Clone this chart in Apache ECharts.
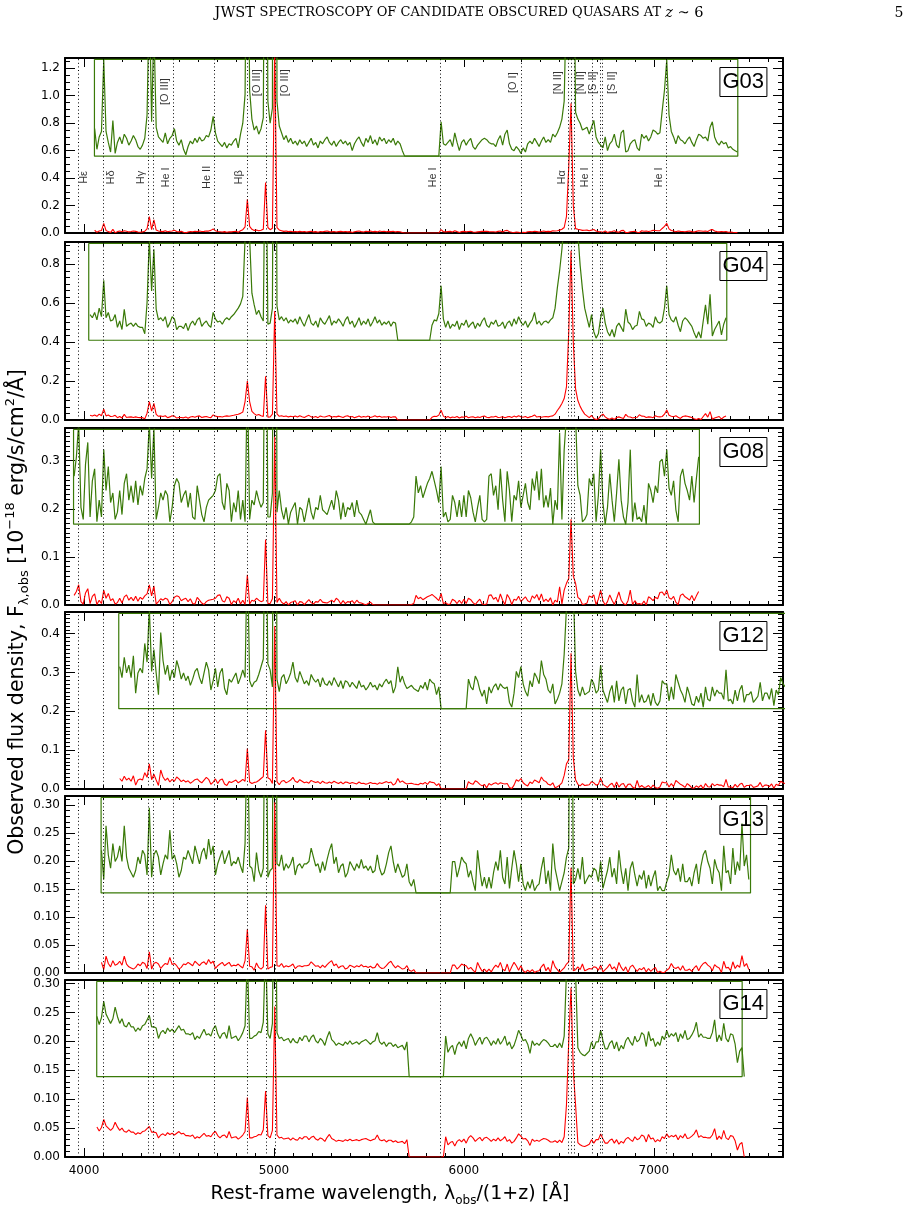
<!DOCTYPE html>
<html><head><meta charset="utf-8">
<script src="https://cdn.jsdelivr.net/npm/echarts@6/dist/echarts.min.js"></script>
<style>html,body{margin:0;padding:0;background:#fff}#c{width:911px;height:1223px}</style>
</head><body><div id="c"></div>
<script>
// ---------------- data ----------------
const NAMES = ['G03','G04','G08','G12','G13','G14'];
// first sample wavelength (rest-frame, Å) of each spectrum; samples every STEP Å
const START = [4056, 4032, 3948, 4188, 4092, 4068];
const STEP = 12;
// wavelength range covered by each spectrum (edges of the green zoom box)
const BOX = [[4055,7442],[4025,7384],[3945,7240],[4183,7700],[4090,7509],[4067,7465]];
// zoomed (green) copy: offset and multiplication factor
const OFFSET = [0.56, 0.41, 0.168, 0.207, 0.143, 0.139];
const SCALE = [10, 5.5, 5, 4, 4, 2];
// y axis ranges and ticks (10^-18 erg/s/cm2/Å)
const YMAX = [1.275, 0.915, 0.368, 0.456, 0.316, 0.306];
const YTICK = [0.2, 0.2, 0.1, 0.1, 0.05, 0.05];
const YMINOR = [0.05, 0.2/6, 0.01, 0.01, 0.01, 0.01];
const YDEC = [1, 1, 1, 1, 2, 2];
const XMAJOR = [4000, 5000, 6000, 7000];
// emission lines (Å)
const LINES = [3970, 4102, 4340, 4363, 4471, 4686, 4861, 4959, 5007, 5876, 6300, 6548, 6563, 6583, 6678, 6716, 6731, 7065];
const LABEL_LOW = [['Hε',4000],['Hδ',4143],['Hγ',4299],['He I',4434],['He II',4645],['Hβ',4817],['He I',5836],['Hα',6515],['He I',6639],['He I',7026]];
const LABEL_HIGH = [['[O III]',4424],['[O III]',4912],['[O III]',5058],['[O I]',6260],['[N II]',6494],['[N II]',6618],['[S II]',6682],['[S II]',6780]];

// flux densities in units of 1e-21 erg/s/cm2/Å (0 = no data)
const FLUX_G03 = [
20,5,14,18,70,18,10,3,26,2,
10,14,9,16,13,8,11,15,12,7,
5,8,13,30,119,25,95,21,14,12,
10,17,9,13,15,20,11,8,12,5,
1,7,11,9,13,10,14,11,12,15,
14,19,29,17,11,9,7,10,6,9,
8,11,13,6,16,24,45,245,48,27,
19,22,16,20,28,367,40,24,35,1350,
40,22,17,12,15,10,13,9,11,8,
12,9,11,7,10,13,8,10,6,11,
9,12,14,10,8,11,7,10,12,9,
11,8,10,4,9,12,14,10,7,13,
10,15,9,12,8,14,11,13,9,12,
10,13,8,11,9,4,0,0,0,0,
0,0,0,0,0,0,0,0,0,0,
0,0,25,9,8,10,12,7,17,10,
4,10,12,8,11,13,7,5,8,10,
12,13,12,10,9,9,7,12,15,8,
16,19,9,5,4,7,5,2,6,3,
9,11,9,13,10,7,11,14,10,12,
10,16,14,17,21,27,40,120,480,945,
200,32,27,24,19,20,21,16,21,26,
14,10,8,6,14,4,9,11,16,8,
6,17,19,3,4,9,11,12,6,4,
16,13,15,11,14,19,18,16,17,33,
48,70,30,18,14,9,15,12,11,9,
12,14,10,7,12,16,15,13,14,11,
21,25,14,10,8,11,9,10,6,7,
5,4,3];
const FLUX_G04 = [
24,21,26,19,30,22,56,21,26,18,
19,24,12,18,10,29,13,15,16,13,
16,13,12,12,6,35,95,46,85,29,
19,21,18,22,12,16,22,20,10,13,
13,11,16,9,15,18,14,19,21,13,
16,18,14,12,26,20,17,18,15,19,
21,19,22,24,27,30,34,41,95,200,
95,44,33,24,28,22,18,225,15,16,
30,560,32,19,22,18,21,16,19,17,
20,15,22,17,13,19,24,16,14,18,
12,21,17,15,19,23,14,18,16,20,
17,13,19,22,15,18,12,16,21,14,
18,15,20,13,17,22,16,19,14,17,
15,18,13,17,16,0,0,0,0,0,
0,0,0,0,0,0,0,0,0,0,
14,19,18,25,51,20,12,18,11,15,
13,18,10,16,14,19,12,15,17,11,
16,13,18,21,14,12,17,15,19,13,
14,17,11,16,18,13,20,15,22,17,
14,18,12,16,19,26,15,18,14,17,
18,16,19,21,30,49,65,85,110,170,
450,870,400,160,100,70,48,30,21,12,
24,8,2,6,21,30,16,8,4,10,
3,13,16,12,8,29,17,15,10,13,
14,27,20,19,13,16,15,12,22,17,
16,18,30,51,24,19,17,22,14,8,
18,21,19,16,13,7,2,8,2,18,
33,15,43,4,10,14,18,5,15,21];
const FLUX_G08 = [
20,28,42,7,2,25,34,3,18,23,
1,10,3,31,14,24,9,13,2,5,
14,4,17,21,10,16,9,18,8,16,
12,19,23,42,19,40,2,7,13,10,
14,12,1,7,16,19,17,9,12,14,
7,13,3,2,16,10,4,1,7,10,
11,12,14,20,21,9,6,17,14,1,
9,5,14,2,10,1,63,2,10,8,
14,10,7,9,136,3,3,13,350,5,
14,6,2,7,0,5,7,9,0,7,
6,1,6,11,5,2,7,6,12,6,
5,4,7,10,6,14,10,2,9,3,
7,6,9,3,10,5,4,2,0,3,
6,1,0,0,0,0,0,0,0,0,
0,0,0,0,0,0,0,0,1,3,
20,13,16,11,14,17,19,22,18,14,
9,24,3,5,1,2,12,9,3,10,
3,12,3,14,11,5,1,7,12,2,
1,2,20,21,12,16,6,23,10,1,
22,14,1,12,10,18,7,12,17,9,
6,19,14,22,10,23,7,12,7,15,
0,10,6,38,2,31,45,55,178,60,
45,16,12,1,2,4,19,16,21,1,
12,31,9,0,7,21,10,1,13,27,
10,3,0,9,31,1,9,2,3,1,
8,0,17,14,9,16,13,26,27,20,
31,15,12,18,6,1,20,23,17,14,
10,20,9,19,28];
const FLUX_G12 = [
27,20,33,23,28,20,34,10,23,26,
23,42,30,65,24,38,23,9,49,31,
22,28,18,25,20,31,26,19,23,18,
21,15,19,24,26,20,16,23,30,25,
12,18,26,14,23,26,13,9,19,17,
20,23,16,20,25,20,104,18,14,17,
18,22,27,32,151,29,25,14,420,19,
11,20,22,16,19,23,30,20,17,24,
20,16,18,15,22,19,17,19,14,20,
16,15,18,15,20,17,14,18,13,18,
17,14,17,15,13,18,14,15,12,14,
17,14,15,12,16,14,17,19,16,18,
10,14,27,17,21,16,13,14,15,13,
12,11,15,13,17,12,19,17,16,9,
14,0,0,0,0,0,0,0,0,0,
0,0,0,19,14,12,21,18,12,8,
12,3,14,10,14,16,12,16,14,13,
14,4,1,10,24,20,27,16,11,8,
18,14,23,20,16,31,22,19,12,10,
16,3,6,10,16,35,65,75,350,80,
24,12,8,14,9,10,11,19,16,10,
12,28,12,8,4,11,15,4,18,5,
12,14,3,12,13,5,1,22,4,9,
4,5,9,2,10,4,2,5,18,16,
16,5,14,6,22,17,12,9,4,14,
9,3,2,8,4,10,1,14,6,5,
14,8,12,10,10,6,25,5,6,3,
12,5,12,15,4,9,9,11,4,6,
8,17,5,10,10,6,13,2,12,9,
20,16,14];
const FLUX_G13 = [
19,6,30,17,11,22,14,16,21,14,
30,16,11,9,7,10,16,13,19,17,
8,38,7,17,19,16,8,13,17,15,
28,15,17,13,7,10,16,15,19,16,
13,21,17,13,18,20,15,24,17,21,
8,13,16,19,13,16,19,12,14,13,
16,12,9,22,78,12,11,5,18,10,
7,11,121,7,10,11,305,13,12,17,
10,13,11,13,16,8,12,13,11,13,
13,14,20,16,12,13,9,14,10,15,
19,22,13,16,9,12,13,7,9,14,
12,10,13,11,15,11,12,10,12,9,
10,17,11,8,9,13,18,21,14,9,
13,10,7,8,13,5,3,6,0,0,
0,0,0,0,0,0,0,0,0,0,
0,0,0,0,14,14,7,11,16,14,
13,7,10,5,1,19,10,3,7,2,
7,2,9,14,10,19,7,4,16,2,
11,19,13,5,13,4,1,5,2,6,
1,3,4,11,16,4,10,1,22,11,
6,1,5,9,16,20,188,4,6,11,
6,16,4,6,8,7,11,10,5,14,
2,6,10,16,7,11,4,19,10,4,
11,1,11,14,8,3,8,6,10,2,
8,3,7,10,1,3,1,1,5,8,
17,10,8,11,5,13,5,5,7,3,
9,13,4,12,17,19,14,11,4,15,
11,9,1,21,9,10,4,20,8,14,
10,31,12,17,6];
const FLUX_G14 = [
52,45,51,65,54,50,46,50,60,52,
46,50,44,43,47,43,43,39,42,40,
44,45,49,53,43,43,42,33,38,40,
37,42,39,41,38,41,44,40,41,37,
37,36,38,32,35,33,37,41,36,37,
35,41,44,37,33,37,38,33,44,33,
34,35,31,34,38,44,103,33,33,35,
36,39,38,47,114,37,33,46,260,38,
33,34,31,32,33,29,33,30,29,34,
31,35,35,30,34,36,31,29,33,31,
27,34,39,32,30,27,29,28,27,30,
28,31,28,29,30,28,30,31,32,30,
28,30,31,38,30,28,30,26,29,29,
26,28,25,26,27,23,30,0,0,0,
0,0,0,0,0,0,0,0,0,0,
0,0,0,35,21,25,27,19,27,30,
26,31,24,33,37,33,27,31,34,28,
33,34,31,27,31,28,33,28,31,35,
27,30,24,27,33,40,36,31,32,28,
20,31,27,29,27,30,32,31,29,26,
26,28,25,29,25,35,90,200,293,150,
90,25,21,19,18,20,22,30,24,30,
30,40,31,24,24,29,31,24,30,22,
27,24,31,34,30,27,35,30,32,38,
36,26,39,31,33,26,30,27,35,32,
40,34,37,35,38,30,37,33,40,32,
33,36,40,47,34,37,34,34,33,33,
38,49,30,36,31,46,33,30,37,36,
28,12,22,25,0];
const FLUX = [FLUX_G03, FLUX_G04, FLUX_G08, FLUX_G12, FLUX_G13, FLUX_G14];

// ---------------- layout / style ----------------
const TOPS = [58, 242, 428, 612, 796, 980];
const BOTS = [233, 420, 605, 789, 973, 1157];
const RED = '#ff0000';
const GREEN = '#3a7a08';
const FONT = 'DejaVu Sans';

const grids = [], xAxes = [], yAxes = [], series = [], titles = [];
for (let i = 0; i < 6; i++) {
  const H = BOTS[i] - TOPS[i];
  grids.push({left: 65, width: 718, top: TOPS[i], height: H, containLabel: false, outerBoundsMode: 'none', show: false});
  ['bottom', 'top'].forEach(pos => {
    xAxes.push({gridIndex: i, type: 'value', min: 3900, max: 7680, interval: 100, position: pos,
      axisLine: {show: true, onZero: false, lineStyle: {color: '#000', width: 2}},
      axisTick: {show: true, inside: true, length: 4, lineStyle: {color: '#000', width: 1}},
      axisLabel: {show: false}, splitLine: {show: false}});
    xAxes.push({gridIndex: i, type: 'value', min: 3900, max: 7680, position: pos,
      axisLine: {show: false, onZero: false},
      axisTick: {show: true, inside: true, length: 9, customValues: XMAJOR, lineStyle: {color: '#000', width: 1}},
      axisLabel: {show: pos === 'bottom' && i === 5, customValues: XMAJOR, formatter: v => String(v),
        color: '#000', fontSize: 12, fontFamily: FONT, margin: 8},
      splitLine: {show: false}});
  });
  ['left', 'right'].forEach(pos => {
    yAxes.push({gridIndex: i, type: 'value', min: 0, max: YMAX[i], interval: YMINOR[i], position: pos,
      axisLine: {show: true, onZero: false, lineStyle: {color: '#000', width: 2}},
      axisTick: {show: true, inside: true, length: 5, lineStyle: {color: '#000', width: 1}},
      axisLabel: {show: false}, splitLine: {show: false}});
    yAxes.push({gridIndex: i, type: 'value', min: 0, max: YMAX[i], interval: YTICK[i], position: pos,
      axisLine: {show: false, onZero: false},
      axisTick: {show: true, inside: true, length: 10, lineStyle: {color: '#000', width: 1}},
      axisLabel: {show: pos === 'left', color: '#000', fontSize: 12, fontFamily: FONT, margin: 5,
        formatter: v => { const q = v / YTICK[i]; return Math.abs(q - Math.round(q)) < 1e-6 ? v.toFixed(YDEC[i]) : ''; }},
      splitLine: {show: false}});
  });

  const lam = FLUX[i].map((_, j) => START[i] + STEP * j);
  const red = FLUX[i].map((f, j) => [lam[j], f / 1000]);
  const green = FLUX[i].map((f, j) => [lam[j], OFFSET[i] + SCALE[i] * f / 1000]);
  const top = YMAX[i] - YMAX[i] * 1.3 / H;
  const box = [[BOX[i][0], top], [BOX[i][0], OFFSET[i]], [BOX[i][1], OFFSET[i]], [BOX[i][1], top], [BOX[i][0], top]];
  const ax = {xAxisIndex: 4 * i, yAxisIndex: 4 * i};
  series.push(Object.assign({type: 'line', data: box, symbol: 'none', silent: true, z: 2, clip: true,
    lineStyle: {color: GREEN, width: 1.2},
    markLine: {silent: true, symbol: ['none', 'none'], label: {show: false},
      lineStyle: {color: '#000', type: [1, 2.6], width: 1}, emphasis: {disabled: true},
      data: LINES.map(x => ({xAxis: x}))}}, ax));
  series.push(Object.assign({type: 'line', data: green, symbol: 'none', silent: true, z: 3, clip: true,
    lineStyle: {color: GREEN, width: 1.2}}, ax));
  series.push(Object.assign({type: 'line', data: red, symbol: 'none', silent: true, z: 4, clip: true,
    lineStyle: {color: RED, width: 1.1}}, ax));

  titles.push({text: NAMES[i], right: 144, top: TOPS[i] + 9, borderColor: '#000', borderWidth: 1,
    padding: [3, 3, 3, 3], textStyle: {fontSize: 22, fontWeight: 'normal', fontFamily: 'Liberation Sans', color: '#000', lineHeight: 24}});
}
// line identifications in the first panel
const lblData = LABEL_LOW.map(l => ({name: l[0], value: [l[1], 0.405]}))
  .concat(LABEL_HIGH.map((l, k) => ({name: l[0], value: [l[1], k === 0 ? 1.03 : 1.095]})));
series.push({type: 'scatter', xAxisIndex: 0, yAxisIndex: 0, symbolSize: 2, silent: true, z: 6,
  itemStyle: {color: 'rgba(255,255,255,0)'},
  label: {show: true, position: 'inside', rotate: 90, formatter: p => p.name, color: '#000', fontSize: 11, fontFamily: 'Liberation Sans'},
  labelLayout: {hideOverlap: false},
  data: lblData});

const chart = echarts.init(document.getElementById('c'), null, {renderer: 'canvas'});
chart.setOption({
  animation: false,
  backgroundColor: '#fff',
  textStyle: {fontFamily: FONT},
  title: titles,
  grid: grids, xAxis: xAxes, yAxis: yAxes, series: series,
  graphic: [
    {type: 'text', x: 459, y: 13, silent: true, style: {
      text: '{a|JWST }{b|SPECTROSCOPY OF CANDIDATE OBSCURED QUASARS AT }{i|z}{a| ∼ 6}',
      align: 'center', verticalAlign: 'middle',
      rich: {a: {fontFamily: 'DejaVu Serif', fontSize: 14.5, fill: '#000'},
             b: {fontFamily: 'DejaVu Serif', fontSize: 13, fill: '#000'},
             i: {fontFamily: 'DejaVu Serif', fontStyle: 'italic', fontSize: 14.5, fill: '#000'}}}},
    {type: 'text', x: 899, y: 13, silent: true, style: {text: '5', fontFamily: 'DejaVu Serif', fontSize: 14, fill: '#000', align: 'center', verticalAlign: 'middle'}},
    {type: 'text', x: 390, y: 1194, silent: true, style: {
      text: '{a|Rest-frame wavelength, λ}{s|obs}{a|/(1+z) [Å]}',
      align: 'center', verticalAlign: 'middle',
      rich: {a: {fontFamily: FONT, fontSize: 19, fill: '#000', lineHeight: 26},
             s: {fontFamily: FONT, fontSize: 12, fill: '#000', lineHeight: 15, verticalAlign: 'bottom'}}}},
    {type: 'text', x: 18, y: 612, rotation: Math.PI / 2, silent: true, style: {
      text: '{a|Observed flux density, F}{s|λ,obs}{a| [10}{p|−18}{a| erg/s/cm}{p|2}{a|/Å]}',
      align: 'center', verticalAlign: 'middle',
      rich: {a: {fontFamily: FONT, fontSize: 20.5, fill: '#000', lineHeight: 27},
             s: {fontFamily: FONT, fontSize: 13, fill: '#000', lineHeight: 15, verticalAlign: 'bottom'},
             p: {fontFamily: FONT, fontSize: 13, fill: '#000', lineHeight: 15, verticalAlign: 'top'}}}}
  ]
});
</script>
</body></html>
